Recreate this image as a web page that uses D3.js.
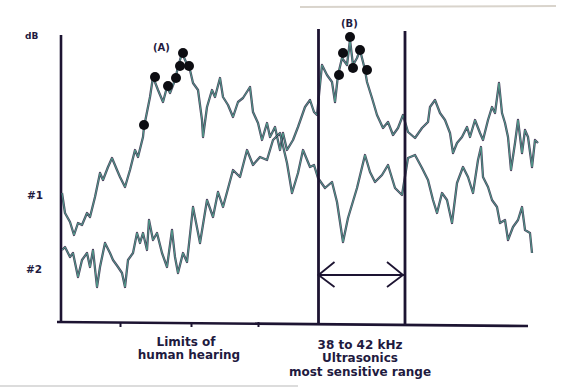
<!DOCTYPE html>
<html>
<head>
<meta charset="utf-8">
<script src="https://cdn.jsdelivr.net/npm/d3@7"></script>
<style>
  body { margin: 0; background: #fff; }
  svg text { font-family: "DejaVu Sans", sans-serif; font-weight: bold; fill: #1f1b3f; }
</style>
</head>
<body>
<div id="plot"></div>
<script>
// frequency (arbitrary units along the axis) and level (dB, arbitrary units)
const freq1 = [1,4,9,13,17,21,26,29,34,39,42,47,51,56,59,64,69,74,77,82,83,89,92,97,102,106,109,114,117,121,125,129,132,137,141,142,146,151,154,159,162,167,172,177,182,189,192,197,201,206,209,214,219,222,226,232,237,244,249,253,256,261,266,271,274,277,281,286,289,292,296,299,304,306,311,316,322,327,332,337,342,347,354,361,367,369,374,379,384,389,392,396,401,406,409,414,419,422,427,431,434,438,441,444,447,450,454,457,461,464,467,471,474,477];
const level1 = [129,109,100,87,99,97,109,105,125,149,142,155,164,152,145,135,152,172,165,185,195,225,245,232,220,235,229,242,255,269,260,252,239,232,202,185,215,232,225,244,225,217,205,220,224,235,210,199,182,199,185,195,172,189,172,182,195,215,222,210,207,257,247,240,220,247,264,257,282,257,264,272,252,240,224,207,194,200,187,194,207,190,184,194,200,215,222,209,202,189,169,179,185,195,185,202,189,182,202,215,209,239,209,199,185,152,179,202,169,192,185,155,182,179];

const freq2 = [1,4,9,12,17,21,26,29,32,36,39,44,49,52,57,61,64,67,72,76,79,82,86,88,92,96,101,106,111,114,117,122,126,129,132,139,146,152,157,162,172,179,186,192,199,206,212,219,226,231,237,242,249,253,257,264,271,276,282,287,296,304,309,314,321,327,334,341,347,354,361,367,372,376,381,386,391,396,402,407,412,417,420,422,427,431,436,439,444,447,452,457,461,464,469,471];
const level2 = [72,75,65,69,45,62,69,55,72,35,55,79,69,62,55,49,35,62,69,89,79,89,72,102,82,89,69,55,92,65,49,69,60,87,115,79,122,105,130,115,152,145,172,157,165,162,182,189,159,129,149,172,155,157,144,134,140,120,80,104,134,167,150,140,147,157,134,127,164,167,154,142,122,109,129,122,99,139,155,145,129,162,175,145,135,122,115,99,102,82,95,102,115,92,89,69];

// marked peaks (A) and (B)
const peakA_f = [83,94,107,115,119,122,128];
const peakA_v = [197,245,236,244,256,269,256];
const peakB_f = [278,282,289,292,299,306];
const peakB_v = [247,269,285,254,272,252];

const tickFreqs = [59,130,197];
const bandLo = 257.5, bandHi = 344;

const margin = {top: 22, right: 31, bottom: 66, left: 61};
const width = 572, height = 388;

const svg = d3.select("#plot").append("svg")
    .attr("width", width)
    .attr("height", height);

const x = d3.scaleLinear().domain([0, 480]).range([margin.left, width - margin.right]);
const y = d3.scaleLinear().domain([0, 300]).range([height - margin.bottom, margin.top]);

// scan smudges
svg.append("line").attr("x1", 300).attr("x2", 556).attr("y1", 7).attr("y2", 6)
    .attr("stroke", "#d9d4cc").attr("stroke-width", 2);
svg.append("line").attr("x1", 0).attr("x2", 298).attr("y1", 386).attr("y2", 386)
    .attr("stroke", "#dcdcdc").attr("stroke-width", 2);

const ink = "#1d1432";

// x axis with the three small ticks
const xAxis = d3.axisBottom(x).tickValues(tickFreqs).tickSize(5).tickFormat("");
const gx = svg.append("g").attr("transform", "translate(0," + y(0) + ")").call(xAxis);
gx.select(".domain").remove();
gx.selectAll(".tick line").attr("stroke", ink).attr("stroke-width", 2);
svg.append("line")
    .attr("x1", x(-4)).attr("x2", x(467))
    .attr("y1", y(0)).attr("y2", y(-4))
    .attr("stroke", ink).attr("stroke-width", 2.6);

// y axis
svg.append("line")
    .attr("x1", x(0)).attr("x2", x(0))
    .attr("y1", y(0)).attr("y2", y(287))
    .attr("stroke", ink).attr("stroke-width", 2.6);

// series lines
const line = d3.line().x(d => x(d[0])).y(d => y(d[1]));
const s1 = d3.zip(freq1, level1);
const s2 = d3.zip(freq2, level2);
[s1, s2].forEach(s => {
  svg.append("path").datum(s).attr("d", line)
      .attr("fill", "none").attr("stroke", "#2e2444").attr("stroke-width", 2.3)
      .attr("stroke-opacity", 0.85).attr("stroke-linejoin", "round");
  svg.append("path").datum(s).attr("d", line)
      .attr("fill", "none").attr("stroke", "#4fa48f").attr("stroke-width", 0.9)
      .attr("stroke-linejoin", "round");
});

// band lines 38 to 42 kHz
[bandLo, bandHi].forEach((f, i) => {
  svg.append("line")
      .attr("x1", x(f)).attr("x2", x(f))
      .attr("y1", y(-2 - i * 2)).attr("y2", y(i ? 291 : 293))
      .attr("stroke", ink).attr("stroke-width", 2.8);
});

// double arrow
const ay = y(47);
svg.append("line").attr("x1", x(bandLo)).attr("x2", x(bandHi)).attr("y1", ay).attr("y2", ay)
    .attr("stroke", ink).attr("stroke-width", 1.8);
svg.append("path")
    .attr("d", `M${x(bandLo) + 16},${ay - 13}L${x(bandLo)},${ay}L${x(bandLo) + 16},${ay + 12}`)
    .attr("fill", "none").attr("stroke", ink).attr("stroke-width", 1.8);
svg.append("path")
    .attr("d", `M${x(bandHi) - 18},${ay - 13}L${x(bandHi) - 2},${ay}L${x(bandHi) - 18},${ay + 12}`)
    .attr("fill", "none").attr("stroke", ink).attr("stroke-width", 1.8);

// dots
const dots = d3.zip(peakA_f, peakA_v).concat(d3.zip(peakB_f, peakB_v));
svg.selectAll("circle.pk").data(dots).enter().append("circle")
    .attr("class", "pk")
    .attr("cx", d => x(d[0])).attr("cy", d => y(d[1]))
    .attr("r", 5).attr("fill", "#0d0d12");

// labels
function label(t, px, py, size, anchor) {
  svg.append("text").attr("x", px).attr("y", py)
      .attr("font-size", size).attr("text-anchor", anchor || "start").text(t);
}
label("dB", 25, 39, 9);
label("(A)", 153, 51, 10);
label("(B)", 341, 27, 10);
label("#1", 27, 199, 10.5);
label("#2", 26, 273, 10.5);
label("Limits of", 186, 346, 12, "middle");
label("human hearing", 189, 359, 12, "middle");
label("38 to 42 kHz", 360, 349, 12, "middle");
label("Ultrasonics", 360, 362, 12, "middle");
label("most sensitive range", 360, 376, 12, "middle");
</script>
</body>
</html>
